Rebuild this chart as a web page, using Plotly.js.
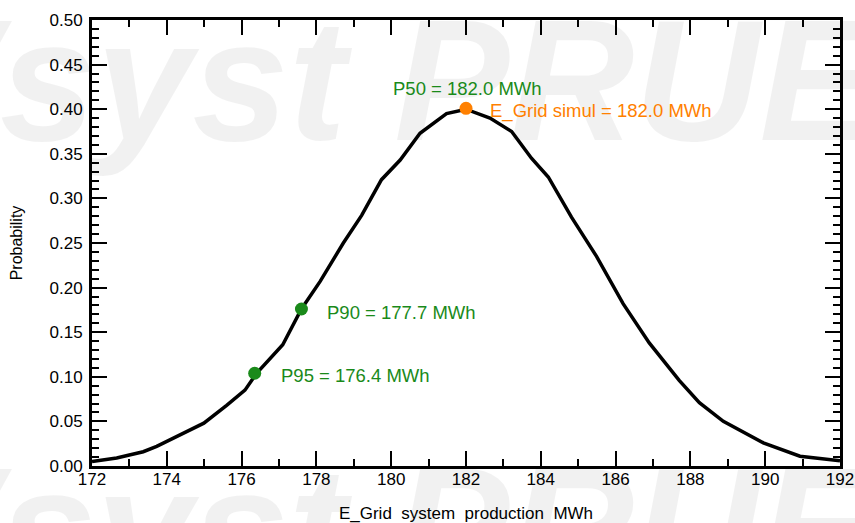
<!DOCTYPE html>
<html>
<head>
<meta charset="utf-8">
<script src="https://cdn.plot.ly/plotly-3.0.1.min.js"></script>
<style>html,body{margin:0;padding:0;background:#fff;}#chart{width:855px;height:523px;}</style>
</head>
<body>
<div id="chart"></div>
<script>
// Probability distribution of yearly production
const energy = [172.0, 172.66, 172.97, 173.37, 173.73, 174.26, 174.99, 175.6, 176.09, 176.4, 177.1, 177.6, 178.1, 178.72, 179.21, 179.74, 180.24, 180.77, 181.48, 182.0, 182.64, 183.22, 183.75, 184.2, 184.82, 185.49, 186.2, 186.9, 187.7, 188.24, 188.88, 189.95, 190.93, 192.0];
const probability = [0.005, 0.009, 0.012, 0.016, 0.022, 0.033, 0.048, 0.068, 0.085, 0.104, 0.136, 0.176, 0.207, 0.250, 0.281, 0.321, 0.343, 0.373, 0.395, 0.400, 0.390, 0.375, 0.345, 0.324, 0.279, 0.235, 0.182, 0.138, 0.096, 0.071, 0.050, 0.026, 0.011, 0.006];

const pLabels = ["P95 = 176.4 MWh", "P90 = 177.7 MWh"];
const pX = [176.35, 177.6];
const pY = [0.104, 0.176];

const p50Label = "P50 = 182.0 MWh";
const simulLabel = "E_Grid simul = 182.0 MWh";
const p50X = 182.0;
const p50Y = 0.401;

const xTicks = [172, 174, 176, 178, 180, 182, 184, 186, 188, 190, 192];
const yTicks = [0, 0.05, 0.10, 0.15, 0.20, 0.25, 0.30, 0.35, 0.40, 0.45, 0.50];

const watermark = "PVsyst PRUEBA";

const green = "#1a8a1a";
const orange = "#ff8000";
const font = "Liberation Sans, Arial, sans-serif";

const traces = [
  {x: energy, y: probability, type: "scatter", mode: "lines",
   line: {color: "#000", width: 3.5}, hoverinfo: "skip"},
  {x: pX, y: pY, type: "scatter", mode: "markers",
   marker: {color: green, size: 13}, hoverinfo: "skip"},
  {x: [p50X], y: [p50Y], type: "scatter", mode: "markers",
   marker: {color: orange, size: 13}, hoverinfo: "skip"}
];

const wmFont = {family: font, size: 173, color: "rgba(0,0,0,0.055)", style: "italic", weight: "bold"};

const annotations = [
  {xref: "paper", yref: "paper", x: -0.435, y: 0.865, xanchor: "left", yanchor: "middle",
   text: watermark, showarrow: false, font: wmFont},
  {xref: "paper", yref: "paper", x: -0.435, y: -0.14, xanchor: "left", yanchor: "middle",
   text: watermark, showarrow: false, font: wmFont},
  {x: pX[0], y: pY[0], xref: "x", yref: "y", text: pLabels[0], showarrow: false,
   xanchor: "left", xshift: 24, yshift: -2, font: {family: font, size: 18.5, color: green}},
  {x: pX[1], y: pY[1], xref: "x", yref: "y", text: pLabels[1], showarrow: false,
   xanchor: "left", xshift: 24, yshift: -3, font: {family: font, size: 18.5, color: green}},
  {x: p50X, y: p50Y, xref: "x", yref: "y", text: p50Label, showarrow: false,
   xanchor: "center", xshift: 1, yshift: 20, font: {family: font, size: 18.5, color: green}},
  {x: p50X, y: p50Y, xref: "x", yref: "y", text: simulLabel, showarrow: false,
   xanchor: "left", xshift: 22, yshift: -3, font: {family: font, size: 18.5, color: orange}}
];

const layout = {
  width: 855, height: 523,
  margin: {l: 92, r: 15, t: 20, b: 57, pad: 0},
  paper_bgcolor: "#fff", plot_bgcolor: "rgba(0,0,0,0)",
  showlegend: false,
  font: {family: font, color: "#000"},
  xaxis: {
    range: [172, 192], tickvals: xTicks, ticktext: xTicks.map(String),
    showgrid: false, zeroline: false, showline: true, linewidth: 3, linecolor: "#000",
    mirror: "ticks", ticks: "inside", ticklen: 15, tickwidth: 2, tickcolor: "#000",
    minor: {dtick: 1, ticks: "inside", ticklen: 7, tickwidth: 2, tickcolor: "#000", showgrid: false},
    tickfont: {family: font, size: 17, color: "#000"},
    ticklabelstandoff: -4,
    title: {text: "E_Grid&nbsp;&nbsp;system&nbsp;&nbsp;production&nbsp;&nbsp;MWh", font: {family: font, size: 17, color: "#000"}, standoff: 20}
  },
  yaxis: {
    range: [0, 0.5], tickvals: yTicks, ticktext: yTicks.map(v => v.toFixed(2)),
    showgrid: false, zeroline: false, showline: true, linewidth: 3, linecolor: "#000",
    mirror: "ticks", ticks: "inside", ticklen: 15, tickwidth: 2, tickcolor: "#000",
    minor: {dtick: 0.01, ticks: "inside", ticklen: 7, tickwidth: 2, tickcolor: "#000", showgrid: false},
    tickfont: {family: font, size: 17, color: "#000"},
    ticklabelstandoff: 3,
    title: {text: "Probability", font: {family: font, size: 16, color: "#000"}, standoff: 23}
  },
  annotations: annotations
};

Plotly.newPlot("chart", traces, layout, {staticPlot: true, displayModeBar: false});
</script>
</body>
</html>
